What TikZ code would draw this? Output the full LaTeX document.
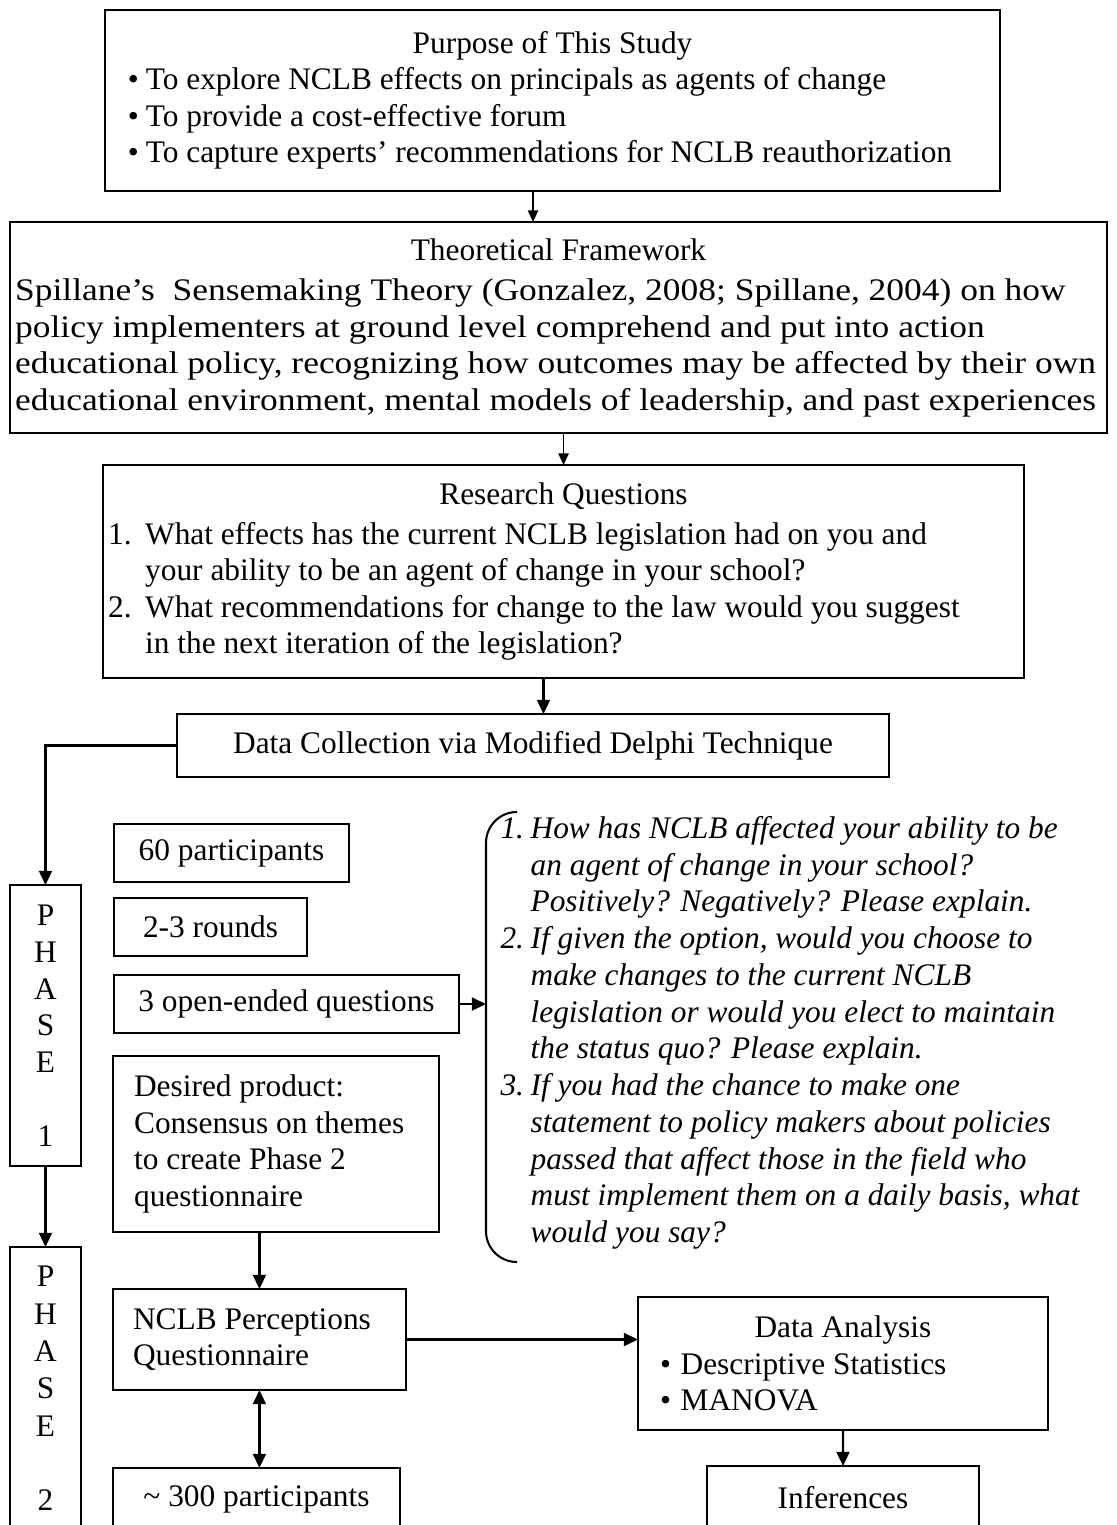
\documentclass[tikz,border=0pt]{standalone}
\usepackage{fontspec}
\setmainfont{Liberation Serif}
\newfontfamily\widefont{Liberation Serif}[FakeStretch=1.13, Ligatures=TeX]
\usetikzlibrary{arrows.meta,calc}
\newcommand{\bul}[1][7pt]{\makebox[#1][l]{\textbullet}}
\newcommand{\numr}[1]{\makebox[14.4pt][l]{#1}}
\newcommand{\numq}[1]{\makebox[11.7pt][l]{#1}}
\newcommand{\ctitle}[1]{\hspace*{\fill}#1\hspace*{\fill}\null}
\tikzset{
  px/.style={x=0.3889pt, y=-0.3889pt, font=\fontsize{12.2}{14.2}\selectfont\frenchspacing},
  f box/.style={draw, line width=0.8pt, anchor=north west, inner ysep=0pt, outer sep=0pt},
  f mid/.style={f box, align=center, inner xsep=0pt},
  f left/.style={f box, align=flush left},
  f arr/.style={line width=0.9pt, -{Triangle[length=5.5pt, width=5pt]}},
  f thin/.style={line width=0.6pt, -{Triangle[length=4.5pt, width=4pt]}},
  f both/.style={line width=0.9pt, {Triangle[length=5.5pt, width=5pt]}-{Triangle[length=5.5pt, width=5pt]}},
}

\begin{document}
\begin{tikzpicture}[px]
\useasboundingbox (0,0) rectangle (1117,1525);
% ---- top chain ----
\node[f left, minimum height=70.4pt, inner xsep=8.9pt, text width=330.3pt] (purpose) at (105,10)
  {\ctitle{Purpose of This Study}\\
   \bul To explore NCLB effects on principals as agents of change\\
   \bul To provide a cost-effective forum\\
   \bul \mbox{To capture experts’ recommendations for NCLB reauthorization}};
\node[f left, minimum height=82.1pt, inner xsep=2pt, text width=422.6pt] (theory) at (10,222)
  {\ctitle{Theoretical Framework}\\[1.5pt]
   \widefont
   \mbox{Spillane’s\ \ Sensemaking Theory (Gonzalez, 2008; Spillane, 2004) on how}\\
   \mbox{policy implementers at ground level comprehend and put into action}\\
   \mbox{educational policy, recognizing how outcomes may be affected by their own}\\
   \mbox{educational environment, mental models of leadership, and past experiences}};
\node[f left, minimum height=82.8pt, inner xsep=2pt, text width=354.2pt] (research) at (103,465)
  {\ctitle{Research Questions}\\[1.5pt]
   \numr{1.}What effects has the current NCLB legislation had on you and\\
   \hspace*{14.4pt}your ability to be an agent of change in your school?\\
   \numr{2.}What recommendations for change to the law would you suggest\\
   \hspace*{14.4pt}in the next iteration of the legislation?};
\node[f mid, minimum width=276.9pt, minimum height=24.5pt] (data) at (177,714)
  {Data Collection via Modified Delphi Technique};
\draw[f thin] ([xshift=-7.6pt]purpose.south) -- ([xshift=-7.6pt]purpose.south |- theory.north);
\draw[f thin] (research.north |- theory.south) -- (research.north);
\draw[f arr] ([xshift=-7.8pt]research.south) -- ([xshift=-7.8pt]research.south |- data.north);
% ---- phase 1 ----
\node[f mid, minimum width=27.6pt, minimum height=109.3pt, font=\fontsize{12.2}{14.3}\selectfont] (phase1) at (10,885)
  {P\\H\\A\\S\\E\\[14.3pt]1};
\node[f mid, minimum width=91.4pt, minimum height=22.6pt] (p60) at (114,824) {60 participants};
\node[f mid, minimum width=75.1pt, minimum height=22.6pt] (rounds) at (114,898) {2-3 rounds};
\node[f mid, minimum width=134.2pt, minimum height=22.6pt] (openq) at (114,975) {3 open-ended questions};
\node[f left, minimum height=68.4pt, inner xsep=8.2pt, text width=110.4pt] (desired) at (113,1056)
  {Desired product:\\Consensus on themes\\to create Phase 2\\questionnaire};
\node[anchor=north west, inner sep=0pt, text width=240pt, align=flush left,
      font=\fontsize{12.2}{14.3}\selectfont\itshape] (qlist) at (500,812)
  {\strut\numq{1.}How has NCLB affected your ability to be\\
   \hspace*{11.7pt}an agent of change in your school?\\
   \hspace*{11.7pt}Positively? Negatively? Please explain.\\
   \numq{2.}If given the option, would you choose to\\
   \hspace*{11.7pt}make changes to the current NCLB\\
   \hspace*{11.7pt}legislation or would you elect to maintain\\
   \hspace*{11.7pt}the status quo? Please explain.\\
   \numq{3.}If you had the chance to make one\\
   \hspace*{11.7pt}statement to policy makers about policies\\
   \hspace*{11.7pt}passed that affect those in the field who\\
   \hspace*{11.7pt}\mbox{must implement them on a daily basis, what}\\
   \hspace*{11.7pt}would you say?};
\draw[line width=0.8pt, rounded corners=12pt] (517,812) -- (486,812) -- (486,1262) -- (517,1262);
\coordinate (brk) at (486,1004);
\draw[f arr] (data.west) -| (phase1.north);
\draw[f arr] (openq.east) -- (openq.east -| brk);
% ---- phase 2 ----
\node[f mid, minimum width=27.6pt, minimum height=110.1pt, font=\fontsize{12.2}{14.5}\selectfont] (phase2) at (10,1247)
  {P\\H\\A\\S\\E\\[14.5pt]2};
\node[f left, minimum height=39.3pt, inner xsep=7.8pt, text width=98.3pt] (nclb) at (113,1289)
  {NCLB Perceptions\\Questionnaire};
\node[f mid, minimum width=111.6pt, minimum height=24.1pt] (p300) at (113,1468) {\textasciitilde{} 300 participants};
\node[f left, minimum height=51.7pt, inner xsep=8.6pt, text width=142.2pt] (analysis) at (638,1297)
  {\ctitle{Data Analysis}\\
   \bul[8pt]Descriptive Statistics\\
   \bul[8pt]MANOVA};
\node[f mid, minimum width=105.8pt, minimum height=24.9pt] (infer) at (707,1466) {Inferences};
\draw[f arr] (phase1.south) -- (phase2.north);
\draw[f arr] (nclb.north |- desired.south) -- (nclb.north);
\draw[f both] (nclb.south) -- (nclb.south |- p300.north);
\draw[f arr] (nclb.east) -- (nclb.east -| analysis.west);
\draw[f arr] (analysis.south) -- (infer.north);
\end{tikzpicture}
\end{document}
